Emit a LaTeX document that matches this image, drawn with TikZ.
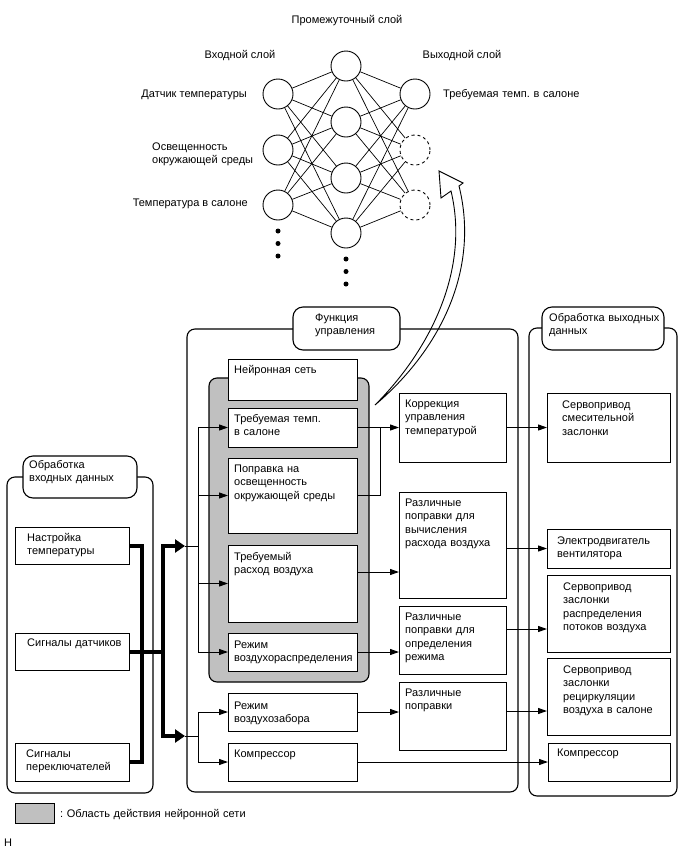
\documentclass[tikz,border=0pt]{standalone}
\usepackage{fontspec}
\setmainfont{Liberation Sans}
\usetikzlibrary{arrows.meta}
\definecolor{grayc}{RGB}{192,192,192}
\newcommand\bx[6]{\node[#6, minimum width={(#4-#2)*1pt}, minimum height={(#5-#3)*1pt}] (#1) at ({(#2+#4)/2},{(#3+#5)/2}) {};}
\frenchspacing
\begin{document}
\begin{tikzpicture}[x=1pt,y=-1pt,
  font=\fontsize{11pt}{13.3pt}\selectfont\frenchspacing,
  box/.style={draw, line width=1pt, fill=white, inner sep=0pt, outer sep=0pt},
  grp/.style={box, rounded corners=8pt, line width=1.1pt},
  lbl/.style={box, rounded corners=10pt, line width=1.1pt},
  txt/.style={anchor=base west, inner sep=0pt, align=left, text width=150pt},
  ctxt/.style={anchor=base, inner sep=0pt},
  neuron/.style={circle, draw, line width=0.9pt, minimum size=30pt, inner sep=0pt, fill=white},
  ghost/.style={neuron, dashed},
  dotn/.style={circle, fill=black, minimum size=5pt, inner sep=0pt},
  link/.style={line width=0.7pt},
  ln/.style={line width=1pt},
  arr/.style={line width=1pt, -{Triangle[length=9pt,width=6pt]}},
  thk/.style={line width=4pt},
  tharr/.style={line width=4pt, -{Triangle[length=10pt,width=13pt]}},
]
\useasboundingbox (0,0) rectangle (688,852);
\fill[white] (0,0) rectangle (688,852);

% ---------- neural net ----------
\node[ctxt] (midL) at (347,23.5) {Промежуточный слой};
\node[ctxt] (inL) at (240,58.5) {Входной слой};
\node[ctxt] (outL) at (462,58.5) {Выходной слой};
\node[anchor=base east, inner sep=0pt] (t1) at (247,97.5) {Датчик температуры};
\node[txt] (t2) at (152,150.5) {Освещенность\\окружающей среды};
\node[anchor=base east, inner sep=0pt] (t3) at (248,206.5) {Температура в салоне};
\node[txt] (t4) at (443,97.5) {Требуемая темп. в салоне};

\node[neuron] (i1) at (278,94) {};
\node[neuron] (i2) at (278,150) {};
\node[neuron] (i3) at (278,205) {};
\node[neuron] (h1) at (346,66) {};
\node[neuron] (h2) at (346,122) {};
\node[neuron] (h3) at (346,178) {};
\node[neuron] (h4) at (346,233) {};
\node[neuron] (o1) at (415,94) {};
\node[ghost] (o2) at (415,150) {};
\node[ghost] (o3) at (415,205) {};
\foreach \a in {i1,i2,i3} \foreach \b in {h1,h2,h3,h4} \draw[link] (\a) -- (\b);
\foreach \a in {h1,h2,h3,h4} \foreach \b in {o1,o2,o3} \draw[link] (\a) -- (\b);
\node[dotn] (d1) at (278,231) {};
\node[dotn] (d2) at (278,243.5) {};
\node[dotn] (d3) at (278,256) {};
\node[dotn] (d4) at (346,259) {};
\node[dotn] (d5) at (346,271.5) {};
\node[dotn] (d6) at (346,284) {};

% ---------- input processing ----------
\bx{inGrp}{7}{477}{153}{793}{grp}
\bx{inLbl}{23}{456}{137}{498}{lbl}
\node[txt] (inLblT) at (29,468.5) {Обработка\\входных данных};
\bx{nastr}{15}{527}{129}{564}{box}
\node[txt] (nastrT) at (27,541.5) {Настройка\\температуры};
\bx{sign}{15}{633}{129}{670}{box}
\node[txt] (signT) at (27,646.5) {Сигналы датчиков};
\bx{pere}{15}{743}{129}{781}{box}
\node[txt] (pereT) at (26,757.5) {Сигналы\\переключателей};

% ---------- control function ----------
\bx{fnGrp}{187}{329}{518}{792}{grp}
\bx{fnLbl}{293}{307}{400}{350}{lbl}
\node[txt] (fnLblT) at (315,321.5) {Функция\\управления};
\bx{nnArea}{209}{378}{369}{682}{grp, fill=grayc}
\bx{nn}{228}{359}{357}{400}{box}
\node[txt] (nnT) at (234,373.5) {Нейронная сеть};
\bx{treb}{228}{408}{357}{447}{box}
\node[txt] (trebT) at (234,422.5) {Требуемая темп.\\в салоне};
\bx{popr}{228}{458}{357}{533}{box}
\node[txt] (poprT) at (234,472.5) {Поправка на\\освещенность\\окружающей среды};
\bx{rash}{228}{545}{357}{622}{box}
\node[txt] (rashT) at (234,560.5) {Требуемый\\расход воздуха};
\bx{rezh}{228}{633}{357}{671}{box}
\node[txt] (rezhT) at (234,648.5) {Режим\\воздухораспределения};
\bx{zabor}{228}{693}{357}{731}{box}
\node[txt] (zaborT) at (234,709.5) {Режим\\воздухозабора};
\bx{kompA}{228}{743}{357}{781}{box}
\node[txt] (kompAT) at (234,757.5) {Компрессор};
\bx{korr}{399}{393}{506}{462}{box}
\node[txt] (korrT) at (405,407.5) {Коррекция\\управления\\температурой};
\bx{rpA}{399}{492}{506}{598}{box}
\node[txt] (rpAT) at (405,506.5) {Различные\\поправки для\\вычисления\\расхода воздуха};
\bx{rpB}{399}{606}{506}{674}{box}
\node[txt] (rpBT) at (405,620.5) {Различные\\поправки для\\определения\\режима};
\bx{rpC}{399}{682}{506}{750}{box}
\node[txt] (rpCT) at (405,696.5) {Различные\\поправки};

% ---------- output processing ----------
\bx{outGrp}{529}{328}{677}{796}{grp}
\bx{outLbl}{542}{307}{664}{350}{lbl}
\node[txt] (outLblT) at (549,321.5) {Обработка выходных\\данных};
\bx{srvA}{547}{393}{670}{462}{box}
\node[txt] (srvAT) at (562,408.5) {Сервопривод\\смесительной\\заслонки};
\bx{elec}{547}{529}{670}{568}{box}
\node[txt] (elecT) at (557,544.5) {Электродвигатель\\вентилятора};
\bx{srvB}{547}{575}{670}{652}{box}
\node[txt] (srvBT) at (563,590.5) {Сервопривод\\заслонки\\распределения\\потоков воздуха};
\bx{srvC}{547}{658}{670}{735}{box}
\node[txt] (srvCT) at (563,673.5) {Сервопривод\\заслонки\\рециркуляции\\воздуха в салоне};
\bx{kompB}{548}{743}{670}{781}{box}
\node[txt] (kompBT) at (557,756.5) {Компрессор};

% ---------- thick input bus ----------
\coordinate (busL) at (142,651.5);
\coordinate (busM) at (163,651.5);
\coordinate (tipA) at (185,546);
\coordinate (tipB) at (185,736);
\draw[thk, line join=miter] (nastr.east) -| (busL) |- (pere.east);
\draw[thk] (sign.east) -- (busM);
\draw[tharr, line join=miter] (busM) |- (tipA);
\draw[tharr, line join=miter] (busM) |- (tipB);

% ---------- thin buses ----------
\coordinate (bx1) at (198,546);
\coordinate (bx2) at (198,736);
\draw[ln] (tipA) -- (bx1);
\draw[ln] (tipB) -- (bx2);
\draw[ln] (treb.west -| bx1) -- (rezh.west -| bx1);
\draw[ln] (zabor.west -| bx1) -- (kompA.west -| bx1);
\draw[arr] (treb.west -| bx1) -- (treb.west);
\draw[arr] (popr.west -| bx1) -- (popr.west);
\draw[arr] (rash.west -| bx1) -- (rash.west);
\draw[arr] (rezh.west -| bx1) -- (rezh.west);
\draw[arr] (zabor.west -| bx1) -- (zabor.west);
\draw[arr] (kompA.west -| bx1) -- (kompA.west);

\coordinate (jK) at (380,427.5);
\draw[arr] (treb.east) -- (korr.west);
\draw[ln] (popr.east) -| (jK);
\draw[arr] ([yshift=11.5pt]rash.east) -- ([yshift=11.5pt]rash.east -| rpA.west);
\draw[arr] (rezh.east) -- (rezh.east -| rpB.west);
\draw[arr] (zabor.east) -- (zabor.east -| rpC.west);

\draw[arr] (korr.east) -- (srvA.west);
\draw[arr] (elec.west -| rpA.east) -- (elec.west);
\draw[arr] ([yshift=11pt]rpB.east) -- ([yshift=11pt]rpB.east -| srvB.west);
\draw[arr] ([yshift=5pt]rpC.east) -- ([yshift=5pt]rpC.east -| srvC.west);
\draw[arr] (kompA.east) -- (kompB.west);

% ---------- hollow curved arrow ----------
\draw[line width=0.9pt, line join=miter]
  (375,405) .. controls (440,350) and (480,270) .. (459,186)
  -- (463,183) -- (439,171) -- (441,198) -- (451,191)
  .. controls (470,270) and (430,350) .. (375,405) -- cycle;

% ---------- legend ----------
\bx{leg}{15}{803}{54}{823}{box, fill=grayc}
\node[txt, text width=300pt] (legT) at (60,817.5) {: Область действия нейронной сети};
\node[txt] (fig) at (4,846.5) {H};
\end{tikzpicture}
\end{document}
